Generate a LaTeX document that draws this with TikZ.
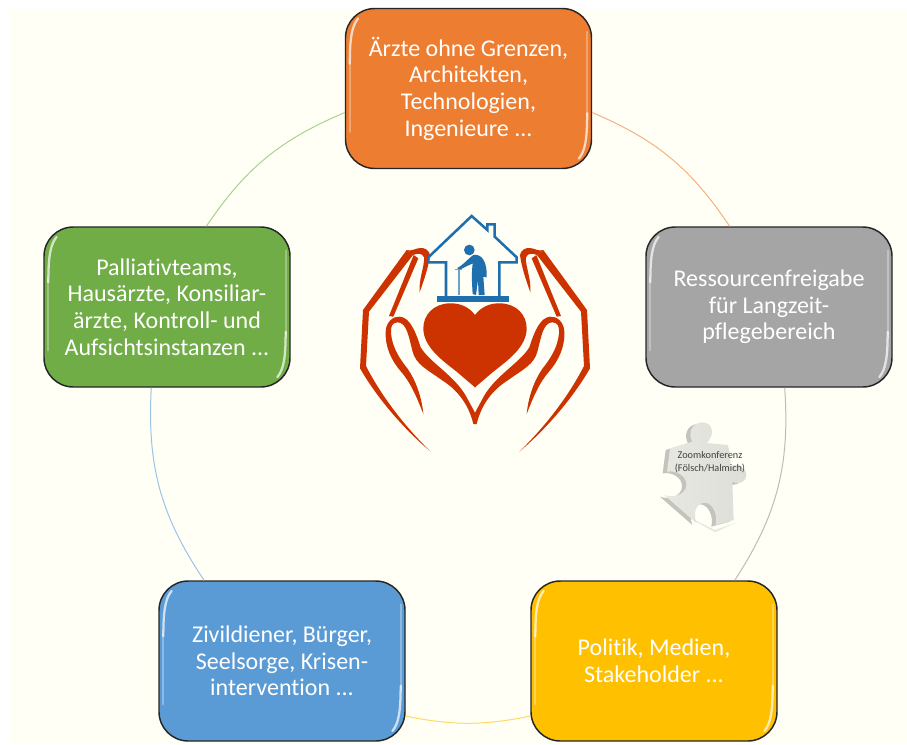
\documentclass[tikz,border=0pt]{standalone}
\usepackage{fontspec}
\setmainfont[Ligatures=NoCommon]{Carlito}
\usepackage{tikz}
\usetikzlibrary{positioning}

\definecolor{cream}{HTML}{FFFFF6}
\definecolor{handred}{HTML}{CC3300}
\definecolor{houseblue}{HTML}{1F6EAE}
\tikzset{
    box/.style={draw=black!85, line width=1.1pt, rounded corners=22pt, minimum width=184.5pt,
        minimum height=120pt, inner sep=0pt, align=center, text=white,
        font=\fontsize{18}{20}\selectfont},
    link/.style={line width=.75pt},
    shine/.style={white, line cap=round}
}

% Light edges of a box
\newcommand{\boxshine}[1]{
    \draw[shine, opacity=.3, line width=1.5pt] ([shift={(3.6pt,-40pt)}]#1.north west) -- ([shift={(3.6pt,28pt)}]#1.south west);
    \draw[shine, opacity=.3, line width=1.5pt] ([shift={(-3.6pt,-18pt)}]#1.north east) -- ([shift={(-3.6pt,40pt)}]#1.south east);
    \draw[shine, opacity=.7, line width=1.7pt] ([shift={(3.8pt,-42pt)}]#1.north west) .. controls ([shift={(3.8pt,-24pt)}]#1.north west) and ([shift={(5pt,-14pt)}]#1.north west) .. ([shift={(10pt,-8pt)}]#1.north west);
    \draw[shine, opacity=.7, line width=1.7pt] ([shift={(-3.8pt,42pt)}]#1.south east) .. controls ([shift={(-3.8pt,24pt)}]#1.south east) and ([shift={(-5pt,14pt)}]#1.south east) .. ([shift={(-10pt,8pt)}]#1.south east);
}
% Outline of the puzzle piece
\newcommand{\puzzlepath}{
    (45,100) -- (112,80) .. controls (98,55) and (110,24) .. (140,22)
    .. controls (172,22) and (182,55) .. (156,84) -- (218,90)
    .. controls (225,110) and (228,135) .. (225,155)
    .. controls (245,142) and (272,155) .. (274,178)
    .. controls (275,200) and (250,212) .. (232,200)
    -- (236,315) -- (182,330)
    .. controls (190,295) and (170,262) .. (148,263)
    .. controls (125,265) and (112,290) .. (125,325)
    -- (28,240)
    .. controls (55,250) and (92,240) .. (94,210)
    .. controls (95,180) and (60,165) .. (36,170) -- cycle
}

\begin{document}
\begin{tikzpicture}[x=.75pt, y=-.75pt]
    % Page
    \useasboundingbox (0,0) rectangle (907,744);
    \fill[white] (0,0) rectangle (907,744);
    \fill[cream] (10,10) rectangle (907,744);

    % Boxes
    \node[box, fill={rgb,255:red,237;green,125;blue,49}] (aerzte) at (468.5,88.5) {Ärzte ohne Grenzen,\\Architekten,\\Technologien,\\Ingenieure ...};
    \node[box, fill={rgb,255:red,165;green,165;blue,165}] (ressourcen) at (769,307) {Ressourcenfreigabe\\für Langzeit-\\pflegebereich};
    \node[box, fill={rgb,255:red,255;green,192;blue,0}] (politik) at (654,661) {Politik, Medien,\\Stakeholder ...};
    \node[box, fill={rgb,255:red,91;green,155;blue,213}] (zivil) at (282,661) {Zivildiener, Bürger,\\Seelsorge, Krisen-\\intervention ...};
    \node[box, fill={rgb,255:red,112;green,173;blue,71}] (palliativ) at (167,307) {Palliativteams,\\Hausärzte, Konsiliar-\\ärzte, Kontroll- und\\Aufsichtsinstanzen ...};
    \boxshine{aerzte}
    \boxshine{ressourcen}
    \boxshine{politik}
    \boxshine{zivil}
    \boxshine{palliativ}

    % Ring between the boxes
    \draw[link, color={rgb,255:red,244;green,177;blue,131}] (aerzte.-11) to[bend left=16.6] (ressourcen.116);
    \draw[link, color={rgb,255:red,192;green,188;blue,180}] (ressourcen.-79) to[bend left=18.5] (politik.45);
    \draw[link, color={rgb,255:red,255;green,217;blue,102}] (politik.204) to[bend left=11.4] (zivil.-24);
    \draw[link, color={rgb,255:red,157;green,195;blue,230}] (zivil.134) to[bend left=18.5] (palliativ.-101);
    \draw[link, color={rgb,255:red,169;green,209;blue,142}] (palliativ.64) to[bend left=16.6] (aerzte.191);

    % Hands and heart, both halves
    \foreach \side in {1,-1} {
        \begin{scope}[shift={(475,200)}, x=\side*.25pt, y=-.25pt, handred]
            % Heart
            \fill (1,345) -- (0,345) .. controls (-15,325) and (-40,308) .. (-78,310)
                .. controls (-125,312) and (-155,345) .. (-155,385)
                .. controls (-155,440) and (-100,480) .. (-55,515)
                -- (0,562) -- (1,562) -- cycle;
            % Back of the hand
            \fill (-133,755) .. controls (-210,690) and (-290,600) .. (-345,505)
                -- (-336,330) -- (-205,150) -- (-186,165) -- (-318,335) -- (-327,498)
                .. controls (-280,590) and (-210,680) .. (-133,755) -- cycle;
            % Finger line
            \fill (-184,165) -- (-170,175) -- (-245,350) -- (-258,348) -- cycle;
            % Finger tip
            \fill (-205,150) .. controls (-190,155) and (-180,145) .. (-165,144)
                .. controls (-150,143) and (-138,150) .. (-135,165)
                .. controls (-140,205) and (-155,245) .. (-166,277)
                .. controls (-170,240) and (-150,195) .. (-153,172)
                .. controls (-158,158) and (-175,160) .. (-186,165) -- cycle;
            % Palm line
            \fill (-155,642) .. controls (-175,590) and (-195,545) .. (-222,515)
                .. controls (-252,480) and (-270,440) .. (-268,395)
                .. controls (-267,365) and (-245,348) .. (-225,350)
                .. controls (-195,353) and (-178,395) .. (-163,442)
                .. controls (-135,488) and (-60,528) .. (-26,590)
                -- (1,640) -- (1,672) -- (-5,672)
                .. controls (-20,610) and (-55,568) .. (-100,540)
                .. controls (-140,510) and (-178,495) .. (-188,452)
                .. controls (-198,412) and (-205,367) .. (-232,367)
                .. controls (-248,367) and (-254,380) .. (-252,400)
                .. controls (-248,445) and (-223,480) .. (-203,505)
                .. controls (-178,540) and (-160,590) .. (-155,642) -- cycle;
        \end{scope}
    }

    % House with the old man
    \begin{scope}[shift={(340,200)}, x=.25pt, y=-.25pt, houseblue]
        \draw[line width=1.9pt, line join=miter] (318,290) -- (318,187) -- (265,187) -- (265,172) -- (395,48) -- (442,90) -- (442,73) -- (464,73) -- (464,110) -- (530,172) -- (530,187) -- (478,187) -- (478,290);
        \fill (290,288) rectangle (506,305);
        \fill (388,150) circle (16);
        \fill (352,204) .. controls (370,195) and (385,175) .. (400,165)
            .. controls (428,160) and (442,190) .. (440,232)
            -- (430,230) -- (434,285) -- (416,285) -- (414,240) -- (408,285) -- (398,282)
            .. controls (396,250) and (394,225) .. (398,190)
            -- (357,210) -- cycle;
        \draw[color=houseblue!65, line width=.9pt] (357,210) -- (357,285);
        \draw[color=houseblue!65, line width=.9pt] (346,209) -- (366,209);
    \end{scope}

    % Puzzle piece
    \begin{scope}[shift={(655,415)}, x=.25pt, y=-.25pt]
        \fill[black!20, opacity=.45] (70,290) -- (180,345) -- (245,322) -- (180,352) -- cycle;
        \fill[color={rgb,255:red,196;green,196;blue,188}, shift={(-13,5)}] \puzzlepath;
        \shade[left color={rgb,255:red,232;green,232;blue,226}, right color={rgb,255:red,222;green,222;blue,216}] \puzzlepath;
    \end{scope}
    \node[align=center, font=\fontsize{7.7}{9.6}\selectfont, text=black!75, inner sep=0pt] (zoomtext) at (710,462) {Zoomkonferenz\\(Fölsch/Halmich)};
\end{tikzpicture}
\end{document}
